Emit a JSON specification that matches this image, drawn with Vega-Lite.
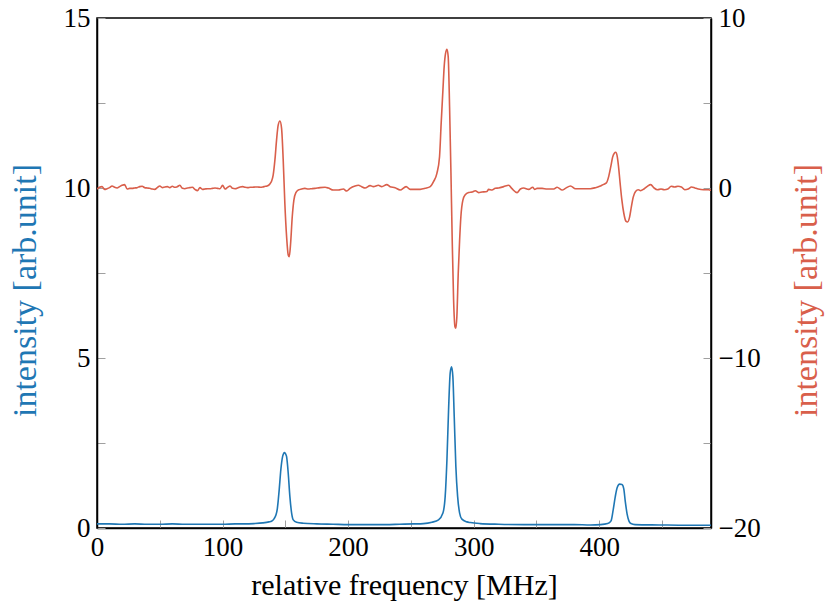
{
  "$schema": "https://vega.github.io/schema/vega-lite/v6.json",
  "width": 614,
  "height": 510,
  "autosize": {"type": "none"},
  "padding": {"left": 97, "top": 18, "right": 120, "bottom": 87},
  "config": {
    "view": {"stroke": "black", "strokeWidth": 1.5},
    "font": "'Liberation Serif', 'DejaVu Serif', serif",
    "axis": {
      "grid": false,
      "domainColor": "black",
      "domainWidth": 1.5,
      "tickColor": "#a0a0a0",
      "tickWidth": 1,
      "tickSize": -8,
      "labelFlush": false,
      "labelFont": "'Liberation Serif', 'DejaVu Serif', serif",
      "labelFontSize": 27,
      "labelColor": "black",
      "labelPadding": 14,
      "titleFont": "'Liberation Serif', 'DejaVu Serif', serif",
      "titleFontWeight": "normal",
      "titleColor": "black"
    }
  },
  "layer": [
    {
      "data": {"values": [
        {"f":0,"v":0.12},{"f":10,"v":0.12},{"f":20,"v":0.11},{"f":30,"v":0.12},{"f":40,"v":0.11},{"f":50,"v":0.11},{"f":60,"v":0.12},{"f":70,"v":0.11},{"f":80,"v":0.11},{"f":90,"v":0.11},{"f":100,"v":0.11},{"f":110,"v":0.12},{"f":118,"v":0.12},{"f":125,"v":0.13},{"f":132,"v":0.15},{"f":137,"v":0.18},{"f":139,"v":0.2},{"f":141,"v":0.27},{"f":142.5,"v":0.38},{"f":143.5,"v":0.54},{"f":144.3,"v":0.8},{"f":145.1,"v":1.12},{"f":146.4,"v":1.71},{"f":147.8,"v":2.1},{"f":148.6,"v":2.19},{"f":149.4,"v":2.22},{"f":150.2,"v":2.18},{"f":151,"v":2.1},{"f":152.3,"v":1.61},{"f":153.6,"v":0.93},{"f":155,"v":0.44},{"f":156.3,"v":0.24},{"f":159,"v":0.17},{"f":164.3,"v":0.14},{"f":175,"v":0.12},{"f":188,"v":0.11},{"f":200,"v":0.1},{"f":215,"v":0.1},{"f":230,"v":0.1},{"f":241,"v":0.11},{"f":252,"v":0.12},{"f":260,"v":0.13},{"f":266.7,"v":0.17},{"f":272,"v":0.24},{"f":275.5,"v":0.44},{"f":277.3,"v":0.93},{"f":278.7,"v":2.01},{"f":280,"v":3.48},{"f":281.3,"v":4.56},{"f":282.4,"v":4.74},{"f":283.4,"v":4.46},{"f":284.5,"v":3.28},{"f":285.8,"v":1.81},{"f":287.2,"v":0.93},{"f":288.8,"v":0.44},{"f":290.6,"v":0.26},{"f":294.6,"v":0.18},{"f":297.3,"v":0.16},{"f":305,"v":0.13},{"f":320,"v":0.11},{"f":340,"v":0.1},{"f":360,"v":0.1},{"f":380,"v":0.1},{"f":393,"v":0.09},{"f":401,"v":0.1},{"f":406.7,"v":0.13},{"f":409.4,"v":0.21},{"f":411,"v":0.51},{"f":412.7,"v":0.91},{"f":414.3,"v":1.19},{"f":416.2,"v":1.29},{"f":418.1,"v":1.28},{"f":419.5,"v":1.16},{"f":420.8,"v":0.76},{"f":422.2,"v":0.41},{"f":423.6,"v":0.21},{"f":425.2,"v":0.13},{"f":428.5,"v":0.1},{"f":447.6,"v":0.09},{"f":470,"v":0.08},{"f":489,"v":0.08}
      ]},
      "mark": {"type": "line", "color": "#1f77b4", "strokeWidth": 1.6, "interpolate": "monotone", "clip": true},
      "encoding": {
        "x": {
          "field": "f", "type": "quantitative",
          "scale": {"domain": [0, 489], "nice": false, "zero": false},
          "axis": {
            "orient": "bottom",
            "title": "relative frequency [MHz]",
            "titleFontSize": 30,
            "titlePadding": 10,
            "values": [0, 50, 100, 150, 200, 250, 300, 350, 400, 450],
            "labelExpr": "datum.value % 100 == 0 ? datum.label : ''"
          }
        },
        "y": {
          "field": "v", "type": "quantitative",
          "scale": {"domain": [0, 15], "nice": false, "zero": false},
          "axis": {
            "orient": "left",
            "title": "intensity [arb.unit]",
            "titleColor": "#1f77b4",
            "titleFontSize": 34,
            "titlePadding": 21,
            "titleY": 272,
            "labelPadding": 15,
            "values": [0, 2.5, 5, 7.5, 10, 12.5, 15],
            "labelExpr": "datum.value % 5 == 0 ? datum.label : ''"
          }
        }
      }
    },
    {
      "data": {"values": [
        {"f":0,"d":-0.06},{"f":2,"d":0.04},{"f":4,"d":0.08},{"f":6,"d":-0.08},{"f":8,"d":-0.04},{"f":10,"d":0.02},{"f":12,"d":0.12},{"f":14,"d":0.04},{"f":16,"d":0},{"f":18,"d":0.08},{"f":20,"d":0.16},{"f":22,"d":0.2},{"f":24,"d":-0.06},{"f":26,"d":-0.02},{"f":28,"d":-0.02},{"f":30,"d":0},{"f":32,"d":0.02},{"f":34,"d":0.08},{"f":36,"d":0.1},{"f":38,"d":0.02},{"f":40,"d":0},{"f":42,"d":-0.02},{"f":44,"d":-0.06},{"f":46,"d":-0.08},{"f":48,"d":0.02},{"f":50,"d":0.12},{"f":52,"d":0.02},{"f":54,"d":0.06},{"f":56,"d":0.08},{"f":58,"d":0.02},{"f":60,"d":0.1},{"f":62,"d":0.04},{"f":64,"d":0.08},{"f":66,"d":0.16},{"f":68,"d":-0.02},{"f":70,"d":-0.04},{"f":72,"d":0},{"f":74,"d":0.02},{"f":76,"d":0.04},{"f":78,"d":-0.08},{"f":80,"d":-0.16},{"f":82,"d":0.02},{"f":84,"d":-0.08},{"f":86,"d":-0.06},{"f":88,"d":-0.04},{"f":90,"d":-0.04},{"f":92,"d":-0.02},{"f":94,"d":0},{"f":96,"d":-0.02},{"f":98,"d":-0.04},{"f":100,"d":0.16},{"f":102,"d":-0.06},{"f":104,"d":0.04},{"f":106,"d":0.12},{"f":108,"d":-0.02},{"f":110,"d":-0.04},{"f":112,"d":0},{"f":114,"d":0.06},{"f":116,"d":0.08},{"f":118,"d":0.04},{"f":120,"d":0.02},{"f":122,"d":0.04},{"f":124,"d":0.04},{"f":126,"d":0.06},{"f":128,"d":0.06},{"f":130,"d":0.04},{"f":132,"d":0.06},{"f":134,"d":0.1},{"f":135.5,"d":0.12},{"f":137.7,"d":0.24},{"f":139,"d":0.4},{"f":140.3,"d":0.76},{"f":141.7,"d":1.65},{"f":143,"d":2.82},{"f":144.3,"d":3.7},{"f":145.7,"d":3.94},{"f":147,"d":3.51},{"f":148.3,"d":1.65},{"f":149.6,"d":-0.9},{"f":151,"d":-2.86},{"f":152.3,"d":-3.94},{"f":153.1,"d":-4.04},{"f":154.2,"d":-3.25},{"f":155.5,"d":-1.69},{"f":156.8,"d":-0.71},{"f":158.4,"d":-0.27},{"f":160.3,"d":-0.12},{"f":163,"d":-0.06},{"f":165.6,"d":-0.02},{"f":168.2,"d":-0.06},{"f":171,"d":-0.04},{"f":173.6,"d":-0.02},{"f":177.6,"d":0.02},{"f":181.6,"d":0.04},{"f":184.2,"d":0},{"f":188.2,"d":-0.12},{"f":192.2,"d":-0.12},{"f":196.2,"d":-0.06},{"f":198.9,"d":-0.18},{"f":201.5,"d":-0.02},{"f":205.5,"d":0.12},{"f":208.2,"d":0.16},{"f":210.8,"d":0.08},{"f":213.5,"d":0},{"f":217.5,"d":0.14},{"f":220.1,"d":0.08},{"f":224.1,"d":0.16},{"f":226.8,"d":0.08},{"f":230.8,"d":0.2},{"f":233.4,"d":0.08},{"f":237.4,"d":0.02},{"f":241.4,"d":-0.12},{"f":246.2,"d":0.08},{"f":249.4,"d":-0.08},{"f":253.4,"d":-0.08},{"f":257.4,"d":-0.08},{"f":261.4,"d":-0.02},{"f":265.4,"d":0.08},{"f":268,"d":0.37},{"f":270.7,"d":0.86},{"f":272.8,"d":1.84},{"f":274.1,"d":3.8},{"f":275.5,"d":5.76},{"f":276.5,"d":7.14},{"f":277.6,"d":7.92},{"f":278.7,"d":8.16},{"f":279.7,"d":7.73},{"f":280.8,"d":4.78},{"f":281.9,"d":0.86},{"f":282.9,"d":-3.06},{"f":284,"d":-6.59},{"f":285.1,"d":-8.16},{"f":285.8,"d":-8.25},{"f":286.6,"d":-7.57},{"f":287.7,"d":-5.02},{"f":288.8,"d":-3.06},{"f":289.8,"d":-1.69},{"f":291.4,"d":-0.71},{"f":293.3,"d":-0.4},{"f":296,"d":-0.27},{"f":298.6,"d":-0.24},{"f":301.3,"d":-0.16},{"f":303.9,"d":-0.27},{"f":306.6,"d":-0.24},{"f":310.6,"d":-0.2},{"f":311.9,"d":-0.08},{"f":314.6,"d":-0.12},{"f":317.2,"d":-0.02},{"f":319.9,"d":0},{"f":323.9,"d":0.08},{"f":327.9,"d":0.16},{"f":330.5,"d":-0.04},{"f":334.5,"d":-0.27},{"f":337.2,"d":-0.06},{"f":339.8,"d":0},{"f":343.8,"d":-0.08},{"f":347,"d":0.04},{"f":348.6,"d":-0.08},{"f":350.5,"d":-0.02},{"f":354.5,"d":-0.02},{"f":358.5,"d":-0.06},{"f":363.8,"d":-0.06},{"f":366.4,"d":0.04},{"f":370.5,"d":-0.12},{"f":373.1,"d":-0.02},{"f":377.1,"d":0.12},{"f":381.1,"d":-0.04},{"f":385.1,"d":-0.04},{"f":389.1,"d":-0.04},{"f":393,"d":-0.04},{"f":397,"d":0.02},{"f":400.3,"d":0.1},{"f":403,"d":0.2},{"f":405.7,"d":0.3},{"f":407.6,"d":0.7},{"f":409.3,"d":1.3},{"f":410.6,"d":1.8},{"f":412,"d":2.05},{"f":413.1,"d":2.1},{"f":414.2,"d":1.9},{"f":415.3,"d":1.3},{"f":416.6,"d":0.3},{"f":418,"d":-0.7},{"f":419.6,"d":-1.5},{"f":421.2,"d":-1.95},{"f":422.6,"d":-2.0},{"f":424.2,"d":-1.7},{"f":425.6,"d":-1.1},{"f":427,"d":-0.55},{"f":428.9,"d":-0.2},{"f":431.1,"d":-0.1},{"f":432.9,"d":-0.16},{"f":435.6,"d":-0.06},{"f":438.3,"d":0.1},{"f":441,"d":0.2},{"f":443.7,"d":0},{"f":446.4,"d":-0.1},{"f":449.2,"d":-0.06},{"f":451.9,"d":-0.1},{"f":454.6,"d":-0.06},{"f":457.3,"d":0.1},{"f":460,"d":0.06},{"f":462.7,"d":0.1},{"f":465.4,"d":0.06},{"f":468.1,"d":-0.1},{"f":470.8,"d":-0.06},{"f":473.5,"d":0.06},{"f":476.2,"d":0},{"f":478.9,"d":-0.06},{"f":483,"d":-0.1},{"f":487,"d":-0.1},{"f":489,"d":-0.14}
      ]},
      "mark": {"type": "line", "color": "#d95f4b", "strokeWidth": 1.6, "interpolate": "monotone", "clip": true},
      "encoding": {
        "x": {
          "field": "f", "type": "quantitative",
          "scale": {"domain": [0, 489], "nice": false, "zero": false}
        },
        "y": {
          "field": "d", "type": "quantitative",
          "scale": {"domain": [-20, 10], "nice": false, "zero": false},
          "axis": {
            "orient": "right",
            "title": "intensity [arb.unit]",
            "titleColor": "#d95f4b",
            "titleFontSize": 34,
            "titleAngle": 270,
            "titlePadding": 63,
            "titleY": 272,
            "labelPadding": 15,
            "values": [-20, -15, -10, -5, 0, 5, 10],
            "labelExpr": "datum.value % 10 == 0 ? datum.label : ''"
          }
        }
      }
    }
  ],
  "resolve": {"scale": {"y": "independent"}}
}
